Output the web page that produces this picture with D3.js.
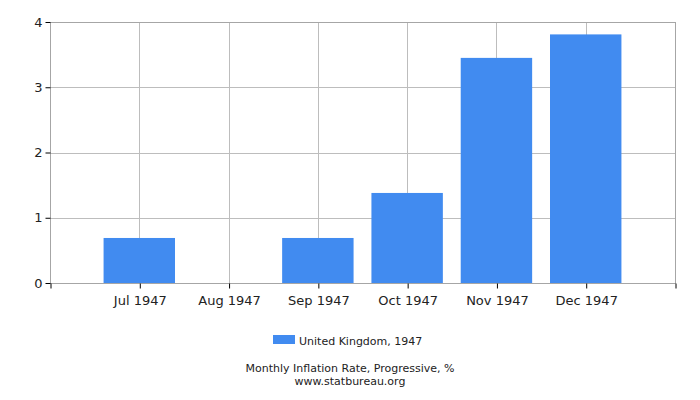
<!DOCTYPE html>
<html>
<head>
<meta charset="utf-8">
<script src="https://cdn.jsdelivr.net/npm/d3@7"></script>
<style>
  body { margin: 0; background: #fff; }
  text { font-family: "DejaVu Sans", sans-serif; }
</style>
</head>
<body>
<svg id="chart"></svg>
<script>
// data
const months = ['Jul 1947', 'Aug 1947', 'Sep 1947', 'Oct 1947', 'Nov 1947', 'Dec 1947'];
const values = [0.69, 0, 0.69, 1.38, 3.45, 3.81];
const yTicks = [0, 1, 2, 3, 4];
const seriesName = 'United Kingdom, 1947';
const title = 'Monthly Inflation Rate, Progressive, %';
const source = 'www.statbureau.org';

const width = 700;
const height = 400;
const margin = { top: 22, right: 25, bottom: 117, left: 50 };

const svg = d3.select('#chart')
  .attr('width', width)
  .attr('height', height);

// one empty slot each side so months sit on the inner ticks
const slots = ['_start', ...months, '_end'];
const x = d3.scalePoint()
  .domain(slots)
  .range([margin.left, width - margin.right]);

const y = d3.scaleLinear()
  .domain([0, 4])
  .range([height - margin.bottom, margin.top]);

const barWidth = x.step() * 0.8;

// grid
svg.append('g')
  .selectAll('line.h')
  .data(yTicks)
  .enter()
  .append('line')
  .attr('x1', margin.left)
  .attr('x2', width - margin.right)
  .attr('y1', d => Math.round(y(d)) + 0.5)
  .attr('y2', d => Math.round(y(d)) + 0.5)
  .attr('stroke', '#bdbdbd');

svg.append('g')
  .selectAll('line.v')
  .data(months)
  .enter()
  .append('line')
  .attr('x1', d => Math.round(x(d)) + 0.5)
  .attr('x2', d => Math.round(x(d)) + 0.5)
  .attr('y1', margin.top)
  .attr('y2', height - margin.bottom)
  .attr('stroke', '#bdbdbd');

// bars
svg.selectAll('rect.bar')
  .data(values)
  .enter()
  .append('rect')
  .attr('class', 'bar')
  .attr('x', (d, i) => x(months[i]) - barWidth / 2)
  .attr('y', d => y(d))
  .attr('width', barWidth)
  .attr('height', d => y(0) - y(d))
  .attr('fill', '#418bf0');

// frame
svg.append('rect')
  .attr('x', margin.left + 0.5)
  .attr('y', margin.top + 0.5)
  .attr('width', width - margin.right - margin.left)
  .attr('height', height - margin.bottom - margin.top)
  .attr('fill', 'none')
  .attr('stroke', '#a6a6a6');

// y axis
const yAxis = svg.append('g')
  .attr('transform', `translate(${margin.left + 0.5},0)`)
  .call(d3.axisLeft(y).tickValues(yTicks).tickSize(5).tickPadding(3).tickFormat(d3.format('d')));
yAxis.select('.domain').remove();
yAxis.selectAll('line').attr('stroke', '#000');
yAxis.selectAll('text').attr('font-size', 13).attr('fill', '#222').attr('font-family', 'DejaVu Sans');

// x axis
const xAxis = svg.append('g')
  .attr('transform', `translate(0.5,${height - margin.bottom + 0.5})`)
  .call(d3.axisBottom(x).tickSize(5).tickPadding(7).tickFormat(d => d.startsWith('_') ? '' : d));
xAxis.select('.domain').remove();
xAxis.selectAll('line').attr('stroke', '#000');
xAxis.selectAll('text').attr('font-size', 13).attr('fill', '#222').attr('font-family', 'DejaVu Sans');

// legend
const legend = svg.append('g').attr('transform', 'translate(273,335)');
legend.append('rect')
  .attr('width', 22)
  .attr('height', 9)
  .attr('fill', '#418bf0');
legend.append('text')
  .attr('x', 26)
  .attr('y', 9.5)
  .attr('font-size', 11)
  .attr('fill', '#222')
  .text(seriesName);

// titles
svg.append('text')
  .attr('x', 350)
  .attr('y', 372)
  .attr('text-anchor', 'middle')
  .attr('font-size', 11)
  .attr('fill', '#222')
  .text(title);

svg.append('text')
  .attr('x', 350)
  .attr('y', 385)
  .attr('text-anchor', 'middle')
  .attr('font-size', 11)
  .attr('fill', '#222')
  .text(source);
</script>
</body>
</html>
